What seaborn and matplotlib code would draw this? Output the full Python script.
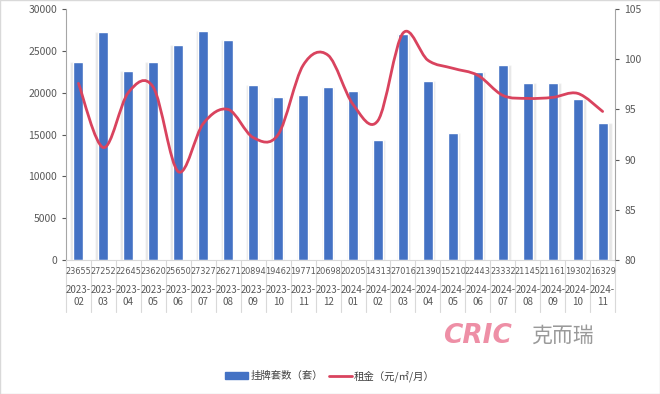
import numpy as np
import pandas as pd
import matplotlib
matplotlib.use("Agg")
import matplotlib.pyplot as plt
import seaborn as sns
from matplotlib.path import Path
from matplotlib.patches import PathPatch, Patch
from matplotlib.lines import Line2D
import matplotlib.transforms as mtransforms

# ---------------- data ----------------
months = ["2023-\n02", "2023-\n03", "2023-\n04", "2023-\n05", "2023-\n06", "2023-\n07",
          "2023-\n08", "2023-\n09", "2023-\n10", "2023-\n11", "2023-\n12", "2024-\n01",
          "2024-\n02", "2024-\n03", "2024-\n04", "2024-\n05", "2024-\n06", "2024-\n07",
          "2024-\n08", "2024-\n09", "2024-\n10", "2024-\n11"]
listings = [23655, 27252, 22645, 23620, 25650, 27327, 26271, 20894, 19462, 19771, 20698,
            20205, 14313, 27016, 21390, 15210, 22443, 23332, 21145, 21161, 19302, 16329]
rent = [97.6, 91.2, 96.7, 97.2, 88.8, 93.6, 95.0, 92.2, 92.5, 99.4, 100.4,
        95.5, 93.9, 102.6, 99.9, 99.1, 98.4, 96.4, 96.1, 96.2, 96.6, 94.8]

bar_label = "挂牌套数（套）"
line_label = "租金（元/㎡/月）"

BLUE = "#4472C4"
RED = "#D9435E"
GREY = "#595959"

sns.set_style("white")
plt.rcParams["font.family"] = ["Noto Sans CJK SC", "DejaVu Sans"]

df = pd.DataFrame({"month": months, "listings": listings, "rent": rent})
n = len(df)

fig = plt.figure(figsize=(6.6, 3.94), dpi=100)
ax = fig.add_axes([0.1, 0.34, 0.832, 0.637])

# soft shadow behind bars
shadow_x = np.arange(n) + (np.arange(n) - (n - 1) / 2) * 0.01
ax.bar(shadow_x, df["listings"], width=0.5, color="#c8c8c8", alpha=0.45, zorder=1)
sns.barplot(data=df, x="month", y="listings", color=BLUE, width=0.4,
            saturation=1, ax=ax, zorder=2)

ax.set_xlim(-0.5, n - 0.5)
ax.set_ylim(0, 30000)
ax.set_yticks(range(0, 30001, 5000))
ax.set_xlabel("")
ax.set_ylabel("")
ax.set_xticks([])
ax.tick_params(axis="y", labelsize=7.5, colors=GREY, length=3, direction="out", left=True)
for s in ["top", "right"]:
    ax.spines[s].set_visible(False)
ax.spines["left"].set_color("#a6a6a6")
ax.spines["bottom"].set_color("#d9d9d9")

# rent line on second axis (smoothed curve through points)
ax2 = ax.twinx()
ax2.set_ylim(80, 105)
ax2.set_yticks(range(80, 106, 5))
ax2.tick_params(axis="y", labelsize=7.5, colors=GREY, length=3, direction="out", right=True)
for s in ["top", "left", "bottom"]:
    ax2.spines[s].set_visible(False)
ax2.spines["right"].set_color("#a6a6a6")

xs = np.arange(n, dtype=float)
ys = np.array(df["rent"], dtype=float)
verts = [(xs[0], ys[0])]
codes = [Path.MOVETO]
for i in range(n - 1):
    p0 = (xs[max(i - 1, 0)], ys[max(i - 1, 0)])
    p1 = (xs[i], ys[i])
    p2 = (xs[i + 1], ys[i + 1])
    p3 = (xs[min(i + 2, n - 1)], ys[min(i + 2, n - 1)])
    c1 = (p1[0] + (p2[0] - p0[0]) / 6, p1[1] + (p2[1] - p0[1]) / 6)
    c2 = (p2[0] - (p3[0] - p1[0]) / 6, p2[1] - (p3[1] - p1[1]) / 6)
    verts += [c1, c2, p2]
    codes += [Path.CURVE4] * 3
ax2.add_patch(PathPatch(Path(verts, codes), facecolor="none", edgecolor=RED,
                        linewidth=2, zorder=3, capstyle="round"))

# data table under the axis
trans = mtransforms.blended_transform_factory(ax.transData, fig.transFigure)
for i in range(n):
    ax.text(i, 1 - 271 / 394, f"{listings[i]}", transform=trans, ha="center",
            va="center", fontsize=5.9, color=GREY, family="DejaVu Sans")
    ax.text(i, 1 - 296 / 394, months[i], transform=trans, ha="center",
            va="center", fontsize=7, color=GREY, linespacing=1.25)
for b in np.arange(-0.5, n, 1.0):
    ax.add_line(Line2D([b, b], [1 - 260 / 394, 1 - 312 / 394], transform=trans,
                       color="#d9d9d9", linewidth=0.8, clip_on=False))

# watermark logo
fig.text(0.672, 1 - 336 / 394, "CRIC", fontsize=19, fontweight="heavy", style="italic",
         color="#EE8FA6", ha="left", va="center", family="DejaVu Sans")
fig.text(0.805, 1 - 336 / 394, "克而瑞", fontsize=15, color="#9a9a9a",
         ha="left", va="center")

# legend
handles = [Patch(facecolor=BLUE, edgecolor=BLUE),
           Line2D([0], [0], color=RED, linewidth=2)]
fig.legend(handles, [bar_label, line_label], loc="center", bbox_to_anchor=(0.5, 1 - 376 / 394),
           ncol=2, frameon=False, fontsize=7.5, handlelength=2.2, handleheight=0.6,
           columnspacing=0.6, handletextpad=0.2, labelcolor="#404040")

fig.patches.append(plt.Rectangle((0, 0), 1, 1, transform=fig.transFigure, fill=False,
                                 edgecolor="#d9d9d9", linewidth=1))

fig.savefig("out.png", dpi=100)
